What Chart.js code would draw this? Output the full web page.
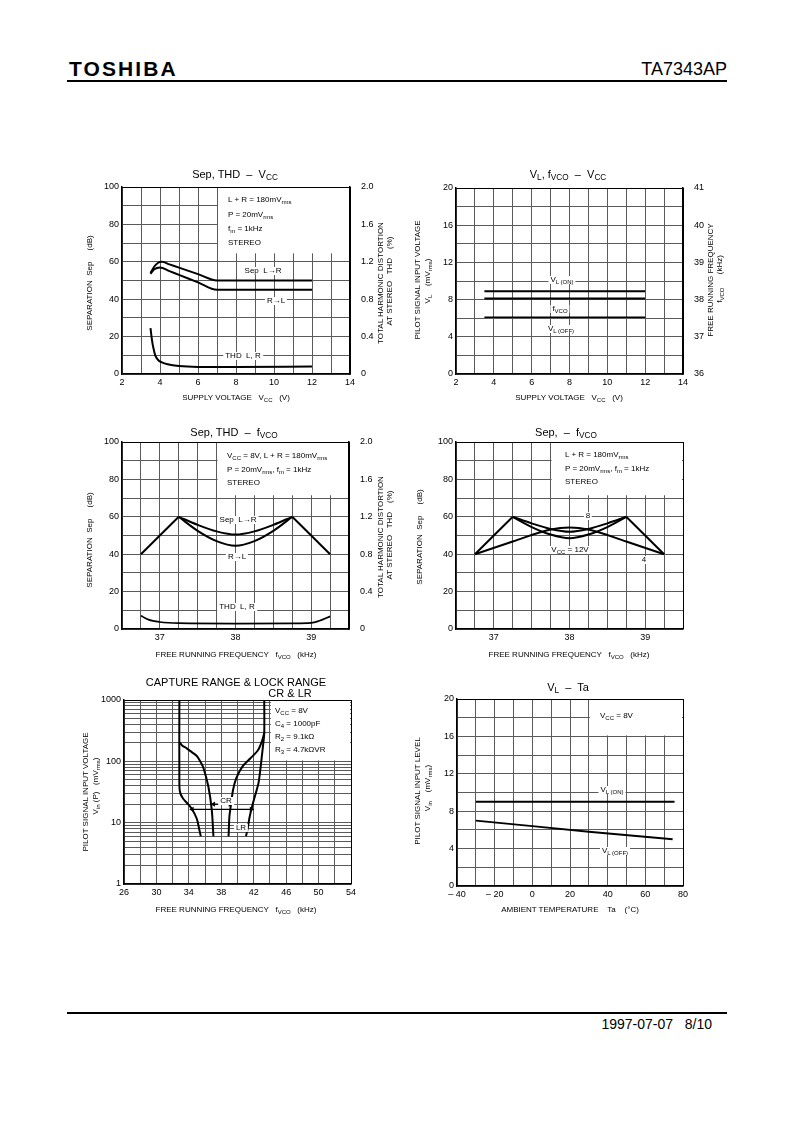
<!DOCTYPE html>
<html>
<head>
<meta charset="utf-8">
<script src="https://cdn.jsdelivr.net/npm/chart.js@4.4.0/dist/chart.umd.min.js"></script>
<style>
body { margin: 0; background: #fff; width: 793px; height: 1123px; position: relative; overflow: hidden; font-family: 'Liberation Sans', Arial, sans-serif; color: #000; }
canvas { position: absolute; }
.t { position: absolute; white-space: pre; font-size: 8px; line-height: 1; transform: translate(-50%, -50%); }
.l { transform: translate(0, -50%); }
.r { transform: translate(-50%, -50%) rotate(-90deg); }
.ttl { font-size: 11px; }
.w { background: #fff; padding: 0 2px; }
sub { font-size: 75%; vertical-align: -2px; line-height: 0; }
</style>
</head>
<body>

<!-- header / footer -->
<div style="position:absolute;left:69px;top:57px;font:bold 21px 'Liberation Sans',Arial,sans-serif;letter-spacing:2.1px">TOSHIBA</div>
<div style="position:absolute;right:66px;top:59px;font:18px 'Liberation Sans',Arial,sans-serif">TA7343AP</div>
<div style="position:absolute;left:67px;top:80px;width:660px;height:2px;background:#000"></div>
<div style="position:absolute;left:67px;top:1012px;width:660px;height:2px;background:#000"></div>
<div style="position:absolute;right:81px;top:1016px;font:14px 'Liberation Sans',Arial,sans-serif;white-space:pre">1997-07-07   8/10</div>

<canvas id="c1"></canvas>
<canvas id="c2"></canvas>
<canvas id="c3"></canvas>
<canvas id="c4"></canvas>
<canvas id="c5"></canvas>
<canvas id="c6"></canvas>

<!-- chart 1 texts -->
<div class="t ttl" style="left:235px;top:174px">Sep, THD  –  V<sub>CC</sub></div>
<div class="t r" style="left:90px;top:283px">SEPARATION  Sep     (dB)</div>
<div class="t r" style="left:381px;top:283px">TOTAL HARMONIC DISTORTION</div>
<div class="t r" style="left:390px;top:281px">AT STEREO   THD    (%)</div>
<div class="t" style="left:236px;top:398px">SUPPLY VOLTAGE   V<sub>CC</sub>   (V)</div>
<div class="t l" style="left:228px;top:200px">L + R = 180mV<sub>rms</sub></div>
<div class="t l" style="left:228px;top:215px">P = 20mV<sub>rms</sub></div>
<div class="t l" style="left:228px;top:229px">f<sub>m</sub> = 1kHz</div>
<div class="t l" style="left:228px;top:243px">STEREO</div>
<div class="t w" style="left:263px;top:271px">Sep  L→R</div>
<div class="t w" style="left:276px;top:301px">R→L</div>
<div class="t w" style="left:243px;top:356px">THD  L, R</div>

<!-- chart 2 texts -->
<div class="t ttl" style="left:568px;top:174px">V<sub>L</sub>, f<sub>VCO</sub>  –  V<sub>CC</sub></div>
<div class="t r" style="left:418px;top:280px">PILOT SIGNAL INPUT VOLTAGE</div>
<div class="t r" style="left:428px;top:281px">V<sub>L</sub>    (mV<sub>rms</sub>)</div>
<div class="t r" style="left:711px;top:280px">FREE RUNNING FREQUENCY</div>
<div class="t r" style="left:720px;top:279px">f<sub>VCO</sub>      (kHz)</div>
<div class="t" style="left:569px;top:398px">SUPPLY VOLTAGE   V<sub>CC</sub>   (V)</div>
<div class="t w" style="left:562px;top:280px">V<sub>L (ON)</sub></div>
<div class="t w" style="left:560px;top:309px">f<sub>VCO</sub></div>
<div class="t w" style="left:561px;top:329px">V<sub>L (OFF)</sub></div>

<!-- chart 3 texts -->
<div class="t ttl" style="left:234px;top:432px">Sep, THD  –  f<sub>VCO</sub></div>
<div class="t r" style="left:90px;top:540px">SEPARATION  Sep     (dB)</div>
<div class="t r" style="left:381px;top:537px">TOTAL HARMONIC DISTORTION</div>
<div class="t r" style="left:390px;top:535px">AT STEREO   THD    (%)</div>
<div class="t" style="left:236px;top:655px">FREE RUNNING FREQUENCY   f<sub>VCO</sub>   (kHz)</div>
<div class="t l" style="left:227px;top:456px">V<sub>CC</sub> = 8V, L + R = 180mV<sub>rms</sub></div>
<div class="t l" style="left:227px;top:470px">P = 20mV<sub>rms</sub>, f<sub>m</sub> = 1kHz</div>
<div class="t l" style="left:227px;top:483px">STEREO</div>
<div class="t w" style="left:238px;top:520px">Sep  L→R</div>
<div class="t w" style="left:237px;top:557px">R→L</div>
<div class="t w" style="left:237px;top:607px">THD  L, R</div>

<!-- chart 4 texts -->
<div class="t ttl" style="left:566px;top:432px">Sep,  –  f<sub>VCO</sub></div>
<div class="t r" style="left:420px;top:537px">SEPARATION  Sep     (dB)</div>
<div class="t" style="left:569px;top:655px">FREE RUNNING FREQUENCY   f<sub>VCO</sub>   (kHz)</div>
<div class="t l" style="left:565px;top:455px">L + R = 180mV<sub>rms</sub></div>
<div class="t l" style="left:565px;top:469px">P = 20mV<sub>rms</sub>, f<sub>m</sub> = 1kHz</div>
<div class="t l" style="left:565px;top:482px">STEREO</div>
<div class="t w" style="left:588px;top:516px">8</div>
<div class="t w" style="left:570px;top:550px">V<sub>CC</sub> = 12V</div>
<div class="t w" style="left:644px;top:560px">4</div>

<!-- chart 5 texts -->
<div class="t ttl" style="left:236px;top:682px">CAPTURE RANGE &amp; LOCK RANGE</div>
<div class="t ttl" style="left:290px;top:693px">CR &amp; LR</div>
<div class="t r" style="left:86px;top:792px">PILOT SIGNAL INPUT VOLTAGE</div>
<div class="t r" style="left:96px;top:786px">V<sub>in</sub> (P)   (mV<sub>rms</sub>)</div>
<div class="t" style="left:236px;top:910px">FREE RUNNING FREQUENCY   f<sub>VCO</sub>   (kHz)</div>
<div class="t l" style="left:275px;top:711px">V<sub>CC</sub> = 8V</div>
<div class="t l" style="left:275px;top:724px">C<sub>4</sub> = 1000pF</div>
<div class="t l" style="left:275px;top:737px">R<sub>2</sub> = 9.1kΩ</div>
<div class="t l" style="left:275px;top:750px">R<sub>3</sub> = 4.7kΩVR</div>
<div class="t w" style="left:226px;top:801px">CR</div>
<div class="t w" style="left:241px;top:828px">LR</div>

<!-- chart 6 texts -->
<div class="t ttl" style="left:568px;top:687px">V<sub>L</sub>  –  Ta</div>
<div class="t r" style="left:418px;top:791px">PILOT SIGNAL INPUT LEVEL</div>
<div class="t r" style="left:428px;top:788px">V<sub>in</sub>    (mV<sub>rms</sub>)</div>
<div class="t" style="left:570px;top:910px">AMBIENT TEMPERATURE    Ta    (°C)</div>
<div class="t l" style="left:600px;top:716px">V<sub>CC</sub> = 8V</div>
<div class="t w" style="left:612px;top:790px">V<sub>L (ON)</sub></div>
<div class="t w" style="left:615px;top:851px">V<sub>L (OFF)</sub></div>

<script>
// ---- chart 1: Sep, THD - Vcc ----
const c1SepLRx = [3.5, 3.7, 3.9, 4.1, 4.5, 5, 6, 7, 12];
const c1SepLRy = [54, 57.5, 59.5, 60, 58.6, 56.9, 53.4, 50, 50];
const c1SepRLx = [3.5, 3.7, 4.0, 4.5, 5, 6, 7, 12];
const c1SepRLy = [53.5, 56, 57, 55, 53, 49, 45, 45];
const c1ThdX = [3.5, 3.58, 3.65, 3.75, 3.9, 4.1, 4.4, 5, 6, 8, 12];
const c1ThdY = [0.49, 0.36, 0.28, 0.2, 0.15, 0.125, 0.105, 0.086, 0.076, 0.074, 0.08];
const c1XLabels = [2, 4, 6, 8, 10, 12, 14];
const c1YLabels = [0, 20, 40, 60, 80, 100];

// ---- chart 2: VL, fVCO - Vcc ----
const c2X = [3.5, 12];
const c2VlOn = [8.9, 8.9];
const c2Fvco = [38.03, 38.03];
const c2VlOff = [6.1, 6.1];
const c2YLabels = [0, 4, 8, 12, 16, 20];

// ---- chart 3: Sep, THD - fVCO ----
const fLegX = [36.75, 37.25, 38, 38.75, 39.25];
const fLegY = [40, 60, null, 60, 40];
const fArcX = [37.25, 37.5, 37.75, 38, 38.25, 38.5, 38.75];
const c3SepLR = [60, 55.7, 52.2, 50.5, 52.2, 55.7, 60];
const c3SepRL = [60, 52.5, 47, 44.5, 47, 52.5, 60];
const c3ThdX = [36.75, 36.85, 37.0, 37.25, 38, 38.75, 39.0, 39.1, 39.25];
const c3ThdY = [0.142, 0.1, 0.075, 0.062, 0.058, 0.06, 0.065, 0.085, 0.135];
const fXLabels = [37, 38, 39];

// ---- chart 4: Sep - fVCO for Vcc ----
const c4Vcc8 = [60, 56.5, 53.5, 52, 53.5, 56.5, 60];
const c4Vcc4 = [60, 54.5, 50.5, 48.5, 50.5, 54.5, 60];
const c4Vcc12X = [36.75, 37.25, 37.75, 38, 38.25, 38.75, 39.25];
const c4Vcc12Y = [40, 46.8, 53.2, 54.3, 53.2, 46.8, 40];

// ---- chart 5: capture range & lock range ----
const c5OuterLX = [32.83, 32.83, 32.95, 33.3, 33.74, 34.36, 34.98, 35.3, 35.47];
const c5OuterLY = [1000, 40, 30, 24.5, 21.1, 16.9, 11.6, 7.6, 6];
const c5InnerLX = [32.83, 33.2, 33.74, 34.4, 34.98, 35.4, 35.8, 36.41, 36.83, 37.03];
const c5InnerLY = [204, 180, 163, 140, 122, 100, 78, 38.5, 16, 6];
const c5InnerRX = [43.3, 43.0, 42.5, 41.6, 40.6, 39.85, 39.45, 39.2, 39.0, 38.9];
const c5InnerRY = [290, 210, 150, 112, 82, 53, 34, 20, 12.5, 6];
const c5OuterRX = [43.3, 43.3, 43.15, 43.0, 42.85, 42.6, 42.2, 41.85, 41.5, 41.25, 41.05];
const c5OuterRY = [1000, 290, 180, 120, 80, 45, 28.5, 19.5, 12.5, 8, 6];
const c5CrX = [37.05, 39.1];
const c5CrY = [20, 20];
const c5LrX = [34.4, 41.7];
const c5LrY = [16.5, 16.5];
const c5XLabels = [26, 30, 34, 38, 42, 46, 50, 54];
const c5YLabels = [1, 10, 100, 1000];
const c5YGrid = [1, 2, 3, 4, 5, 6, 7, 8, 9, 10, 20, 30, 40, 50, 60, 70, 80, 90,
                 100, 200, 300, 400, 500, 600, 700, 800, 900, 1000];

// ---- chart 6: VL - Ta ----
const c6OnX = [-30, 75.5];
const c6OnY = [9, 9];
const c6OffX = [-30, 0, 30, 74.5];
const c6OffY = [7.0, 6.4, 5.8, 5.0];
const c6XLabels = [-40, -20, 0, 20, 40, 60, 80];

// ---------------------------------------------------------------
const PAD = 45, PADT = 10, XH = 16, PADB = 26;
const gridColor = '#5a5a5a';
const tickFont = { family: "'Liberation Sans', Arial, sans-serif", size: 9 };

Chart.register({
    id: 'whiteBox',
    beforeDatasetsDraw: function (chart, args, opts) {
        if (!opts || opts.x0 === undefined) return;
        const a = chart.chartArea;
        const l = chart.scales.x.getPixelForValue(opts.x0) + 1;
        const b = chart.scales.y.getPixelForValue(opts.y0) - 1;
        const ctx = chart.ctx;
        ctx.save();
        ctx.fillStyle = '#fff';
        ctx.fillRect(l, a.top + 1, a.right - 1 - l, b - a.top - 1);
        ctx.restore();
    }
});

function pts(xs, ys) {
    return xs.map(function (x, i) { return { x: x, y: ys[i] }; });
}

function line(xs, ys, extra) {
    return Object.assign({
        data: pts(xs, ys),
        borderColor: '#000',
        borderWidth: 2,
        pointRadius: 0,
        fill: false,
        tension: 0,
        yAxisID: 'y'
    }, extra || {});
}

function labelIn(list, fmt) {
    return function (v) {
        return list.indexOf(v) >= 0 ? (fmt ? fmt(v) : v) : '';
    };
}

function scale(type, min, max, step, cb, fixed, pos) {
    const s = {
        type: type, min: min, max: max,
        ticks: { autoSkip: false, maxRotation: 0, padding: 3, color: '#000', font: tickFont, callback: cb },
        grid: {
            color: function (c) { return c.tick && c.tick.value === max ? '#000' : gridColor; },
            lineWidth: 1,
            drawTicks: false
        },
        border: { color: '#000', width: 1.5 }
    };
    if (step) s.ticks.stepSize = step;
    if (pos) s.position = pos;
    if (fixed.h) {
        s.afterFit = function (sc) { sc.height = fixed.h; sc.paddingLeft = 0; sc.paddingRight = 0; };
    } else {
        s.afterFit = function (sc) { sc.width = fixed.w; sc.paddingTop = 0; sc.paddingBottom = 0; };
    }
    return s;
}

function makeChart(id, plot, datasets, scales, yW, y2W, box) {
    const c = document.getElementById(id);
    c.width = plot.w + 2 * PAD;
    c.height = plot.h + PADT + PADB;
    c.style.left = (plot.l - PAD) + 'px';
    c.style.top = (plot.t - PADT) + 'px';
    return new Chart(c.getContext('2d'), {
        type: 'line',
        data: { datasets: datasets },
        options: {
            responsive: false,
            animation: false,
            devicePixelRatio: 1,
            events: [],
            layout: { padding: { left: PAD - yW, right: PAD - (y2W || 0), top: PADT, bottom: PADB - XH } },
            plugins: { legend: { display: false }, tooltip: { enabled: false }, whiteBox: box || {} },
            scales: scales
        }
    });
}

// chart 1
makeChart('c1', { l: 122, t: 187, w: 228, h: 187 }, [
    line(c1SepLRx, c1SepLRy, { cubicInterpolationMode: 'monotone' }),
    line(c1SepRLx, c1SepRLy, { cubicInterpolationMode: 'monotone' }),
    line(c1ThdX, c1ThdY, { cubicInterpolationMode: 'monotone', yAxisID: 'y2' })
], {
    x: scale('linear', 2, 14, 1, labelIn(c1XLabels), { h: XH }),
    y: scale('linear', 0, 100, 10, labelIn(c1YLabels), { w: 28 }),
    y2: Object.assign(scale('linear', 0, 2, 0.4, function (v) { return v === 0 ? '0' : v.toFixed(1); }, { w: 24 }, 'right'), { grid: { display: false } })
}, 28, 24, { x0: 7, y0: 64 });

// chart 2
makeChart('c2', { l: 456, t: 188, w: 227, h: 186 }, [
    line(c2X, c2VlOn),
    line(c2X, c2Fvco, { yAxisID: 'y2' }),
    line(c2X, c2VlOff, { borderWidth: 1.6 })
], {
    x: scale('linear', 2, 14, 1, labelIn(c1XLabels), { h: XH }),
    y: scale('linear', 0, 20, 2, labelIn(c2YLabels), { w: 24 }),
    y2: Object.assign(scale('linear', 36, 41, 1, function (v) { return v; }, { w: 24 }, 'right'), { grid: { display: false } })
}, 24, 24);

// chart 3
makeChart('c3', { l: 122, t: 442, w: 227, h: 187 }, [
    line(fLegX, fLegY),
    line(fArcX, c3SepLR, { cubicInterpolationMode: 'monotone' }),
    line(fArcX, c3SepRL, { cubicInterpolationMode: 'monotone' }),
    line(c3ThdX, c3ThdY, { cubicInterpolationMode: 'monotone', yAxisID: 'y2', borderWidth: 1.7 })
], {
    x: scale('linear', 36.5, 39.5, 0.25, labelIn(fXLabels), { h: XH }),
    y: scale('linear', 0, 100, 10, labelIn(c1YLabels), { w: 28 }),
    y2: Object.assign(scale('linear', 0, 2, 0.4, function (v) { return v === 0 ? '0' : v.toFixed(1); }, { w: 24 }, 'right'), { grid: { display: false } })
}, 28, 24, { x0: 37.75, y0: 71 });

// chart 4
makeChart('c4', { l: 456, t: 442, w: 227, h: 187 }, [
    line(fLegX, fLegY),
    line(fArcX, c4Vcc8, { cubicInterpolationMode: 'monotone' }),
    line(fArcX, c4Vcc4, { cubicInterpolationMode: 'monotone' }),
    line(c4Vcc12X, c4Vcc12Y, { cubicInterpolationMode: 'monotone' })
], {
    x: scale('linear', 36.5, 39.5, 0.25, labelIn(fXLabels), { h: XH }),
    y: scale('linear', 0, 100, 10, labelIn(c1YLabels), { w: 28 })
}, 28, 0, { x0: 37.75, y0: 71 });

// chart 5 (log)
const c5y = scale('logarithmic', 1, 1000, null, labelIn(c5YLabels), { w: 30 });
c5y.afterBuildTicks = function (sc) {
    sc.ticks = c5YGrid.map(function (v) { return { value: v, major: c5YLabels.indexOf(v) >= 0 }; });
};
makeChart('c5', { l: 124, t: 700, w: 227, h: 184 }, [
    line(c5OuterLX, c5OuterLY, { tension: 0.25 }),
    line(c5InnerLX, c5InnerLY, { tension: 0.3 }),
    line(c5InnerRX, c5InnerRY, { tension: 0.3 }),
    line(c5OuterRX, c5OuterRY, { tension: 0.25 }),
    line(c5CrX, c5CrY, { borderWidth: 1.3, pointStyle: 'triangle', pointRadius: 3, pointRotation: [270, 90], pointBackgroundColor: '#000', pointBorderWidth: 0 }),
    line(c5LrX, c5LrY, { borderWidth: 1.3, pointStyle: 'triangle', pointRadius: 3, pointRotation: [270, 90], pointBackgroundColor: '#000', pointBorderWidth: 0 })
], {
    x: scale('linear', 26, 54, 2, labelIn(c5XLabels), { h: XH }),
    y: c5y
}, 30, 0, { x0: 44, y0: 100 });

// chart 6
makeChart('c6', { l: 457, t: 699, w: 226, h: 187 }, [
    line(c6OnX, c6OnY),
    line(c6OffX, c6OffY, { borderWidth: 1.8 })
], {
    x: scale('linear', -40, 80, 10, labelIn(c6XLabels, function (v) { return v < 0 ? '\u2013 ' + (-v) : v; }), { h: XH }),
    y: scale('linear', 0, 20, 2, labelIn(c2YLabels), { w: 24 })
}, 24, 0, { x0: 30, y0: 16 });
</script>
</body>
</html>
